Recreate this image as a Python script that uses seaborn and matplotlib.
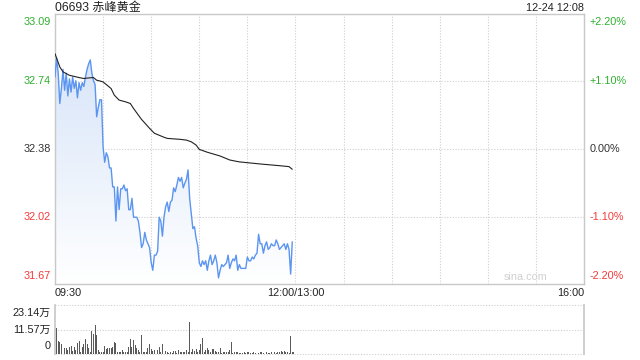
import numpy as np
import pandas as pd
import matplotlib
matplotlib.use("Agg")
import matplotlib.pyplot as plt
import seaborn as sns
from matplotlib.colors import LinearSegmentedColormap

# ---------------- data ----------------
title_text = "06693 赤峰黄金"
stamp_text = "12-24 12:08"
prev_close = 32.38
price_ticks = [33.09, 32.74, 32.38, 32.02, 31.67]
pct_ticks = ["+2.20%", "+1.10%", "0.00%", "-1.10%", "-2.20%"]
time_labels = ["09:30", "12:00/13:00", "16:00"]
vol_labels = ["23.14万", "11.57万", "0"]
vol_max = 23.14

price_min = list(range(0, 149))
price = [32.76, 32.86, 32.78, 32.62, 32.70, 32.80, 32.69, 32.78, 32.66, 32.75,
         32.68, 32.76, 32.70, 32.74, 32.65, 32.73, 32.69, 32.73, 32.71, 32.76,
         32.80, 32.83, 32.85, 32.78, 32.74, 32.72, 32.55, 32.60, 32.64, 32.64,
         32.39, 32.31, 32.36, 32.34, 32.28, 32.28, 32.18, 32.18, 32.00, 32.18,
         32.06, 32.17, 32.17, 32.19, 32.16, 32.17, 32.06, 32.06, 32.12, 32.02,
         32.02, 32.02, 32.00, 31.94, 31.86, 31.88, 31.94, 31.90, 31.88, 31.86,
         31.78, 31.74, 31.82, 31.82, 31.84, 32.02, 32.00, 31.92, 32.02, 32.075,
         32.10, 32.05, 32.10, 32.11, 32.175, 32.155, 32.19, 32.23, 32.21, 32.23,
         32.175, 32.20, 32.22, 32.27, 32.12, 32.04, 31.96, 31.97, 31.91, 31.87,
         31.78, 31.76, 31.79, 31.77, 31.79, 31.74, 31.79, 31.82, 31.77, 31.79,
         31.82, 31.78, 31.70, 31.74, 31.77, 31.76, 31.77, 31.78, 31.82, 31.75,
         31.78, 31.80, 31.79, 31.82, 31.74, 31.77, 31.75, 31.75, 31.75, 31.75,
         31.81, 31.79, 31.79, 31.81, 31.80, 31.82, 31.83, 31.93, 31.88, 31.88,
         31.83, 31.87, 31.89, 31.85, 31.86, 31.88, 31.87, 31.87, 31.90, 31.88,
         31.85, 31.86, 31.87, 31.88, 31.85, 31.88, 31.85, 31.72, 31.89]

avg_min = [0, 3, 5, 9, 15, 18, 21, 24, 26, 28, 30, 32, 35, 37, 40, 44, 47, 49,
           52, 54, 59, 62, 68, 70, 78, 82, 85, 88, 90, 95, 103, 109, 115, 128,
           140, 146, 148]
avg_price = [32.883, 32.813, 32.787, 32.769, 32.757, 32.752, 32.755, 32.757,
             32.743, 32.739, 32.734, 32.720, 32.699, 32.664, 32.638, 32.629,
             32.620, 32.594, 32.559, 32.536, 32.489, 32.463, 32.442, 32.436,
             32.431, 32.427, 32.418, 32.401, 32.378, 32.363, 32.343, 32.322,
             32.312, 32.301, 32.292, 32.287, 32.273]

vol_min = list(range(0, 150))
volume = [23.14, 12.1, 6.1, 5.5, 4.6, 5.0, 3.0, 3.0, 2.0, 3.5,
          3.9, 1.4, 3.5, 1.9, 5.0, 6.1, 1.1, 3.5, 4.6, 7.1,
          4.6, 3.0, 1.1, 10.8, 9.3, 13.7, 9.0, 1.9, 0.8, 1.1,
          0.8, 3.9, 2.4, 3.0, 2.7, 3.0, 3.5, 5.8, 5.0, 1.0,
          1.1, 0.8, 1.9, 0.8, 1.1, 0.8, 3.5, 7.1, 3.5, 6.6,
          4.2, 3.0, 1.9, 0.8, 9.0, 1.1, 0.8, 1.1, 2.7, 4.6,
          2.4, 1.5, 1.9, 1.9, 1.9, 3.5, 0.8, 4.6, 5.8, 1.4,
          0.8, 0.3, 0.8, 0.3, 1.4, 1.4, 0.3, 1.9, 0.8, 0.8,
          1.1, 0.8, 1.9, 0.8, 15.3, 1.0, 2.4, 1.4, 2.4, 0.8,
          1.9, 4.6, 7.7, 1.1, 1.9, 2.7, 1.9, 0.8, 2.4, 2.4,
          1.4, 1.1, 1.1, 3.0, 0.3, 1.1, 0.8, 1.1, 0.8, 1.9,
          5.8, 0.3, 1.1, 1.1, 1.1, 0.6, 0.3, 0.6, 0.8, 0.3,
          0.8, 1.1, 0.6, 0.3, 0.8, 0.5, 0.8, 0.3, 0.8, 1.1,
          0.6, 0.8, 1.1, 0.5, 0.3, 0.8, 0.6, 1.1, 0.3, 0.8,
          1.1, 1.4, 0.8, 1.4, 1.1, 1.1, 0.5, 8.6, 1.1, 0.8]

# ---------------- style ----------------
sns.set_theme(style="white")
plt.rcParams['font.family'] = ['Liberation Sans', 'Noto Sans CJK SC', 'DejaVu Sans']

GREEN = "#2fb02f"
RED = "#f23a3a"
DARK = "#333333"
BLUE = "#5b95f0"
GRID = "#cfcfcf"
FS = 7.8

W, H = 640, 360
fig = plt.figure(figsize=(6.4, 3.6), dpi=100)

def frac(x0, y0, x1, y1):
    return [x0 / W, 1 - y1 / H, (x1 - x0) / W, (y1 - y0) / H]

ax = fig.add_axes(frac(55, 14, 584, 284))
axv = fig.add_axes(frac(55, 305, 584, 354))

X_MAX = 330
y_lo = prev_close * (1 - 0.022)
y_hi = prev_close * (1 + 0.022)

df_p = pd.DataFrame({"m": price_min, "p": price})
df_a = pd.DataFrame({"m": avg_min, "p": avg_price})

# gradient fill under the price line
poly = ax.fill_between(df_p["m"], df_p["p"], y_lo, color="none", lw=0)
cmap = LinearSegmentedColormap.from_list("g", ["#ffffff", "#d8e5f9"])
grad = np.linspace(0, 1, 256).reshape(-1, 1)
top = max(price)
im = ax.imshow(grad, aspect="auto", cmap=cmap, origin="lower",
               extent=[0, max(price_min), y_lo, top], zorder=1)
path = poly.get_paths()[0]
im.set_clip_path(path, transform=ax.transData)

sns.lineplot(data=df_p, x="m", y="p", ax=ax, color=BLUE, lw=1.0, zorder=3)
sns.lineplot(data=df_a, x="m", y="p", ax=ax, color="#222222", lw=0.8, zorder=3)

ax.set_xlim(0, X_MAX)
ax.set_ylim(y_lo, y_hi)
ax.set_xlabel("")
ax.set_ylabel("")
ax.set_xticks([])
ax.set_yticks([])

# grid lines
for v in range(30, X_MAX, 30):
    ax.axvline(v, color=GRID, lw=0.8, ls=(0, (1, 1.5)), zorder=0.5)
for v in price_ticks[1:-1]:
    ax.axhline(v, color=GRID, lw=0.8, ls=(0, (1, 1.5)), zorder=0.5)

for s in ax.spines.values():
    s.set_color("#c8c8c8")
    s.set_linewidth(1.0)

# price labels left & percent labels right
colors = [GREEN, GREEN, DARK, RED, RED]
vas = ["top", "center", "center", "center", "bottom"]
offs = [-3, 0, 0, 0, 3]
for v, pl, c, va, o in zip(price_ticks, pct_ticks, colors, vas, offs):
    ax.annotate(f"{v:.2f}", xy=(0, v), xycoords=("axes fraction", "data"),
                xytext=(-4, o), textcoords="offset pixels",
                ha="right", va=va, color=c, fontsize=FS)
    ax.annotate(pl, xy=(1, v), xycoords=("axes fraction", "data"),
                xytext=(6, o), textcoords="offset pixels",
                ha="left", va=va, color=c, fontsize=FS)

# time labels
tpos = [0, 150, X_MAX]
has = ["left", "center", "right"]
for t, lab, ha in zip(tpos, time_labels, has):
    ax.annotate(lab, xy=(t, 0), xycoords=("data", "axes fraction"),
                xytext=(0, -4), textcoords="offset pixels",
                ha=ha, va="top", color="#222222", fontsize=FS)

ax.text(0.89, 0.008, "sina.com", transform=ax.transAxes, ha="center",
        va="bottom", color="#d0d0d0", fontsize=FS)

fig.text(55 / W, 1 - 8 / H, title_text, ha="left", va="center",
         fontsize=8.7, color="#222222")
fig.text(584 / W, 1 - 8 / H, stamp_text, ha="right", va="center",
         fontsize=FS, color="#222222")

# volume panel
axv.bar(vol_min, volume, width=0.6, color="#5a5a5a", lw=0, zorder=3)
axv.set_xlim(0, X_MAX)
axv.set_ylim(0, vol_max)
axv.set_xticks([])
axv.set_yticks([])
for v in [vol_max, vol_max / 2, 0]:
    axv.axhline(v, color=GRID, lw=0.8, ls=(0, (1, 1.5)), zorder=0.5,
                clip_on=False)
for k in ["top", "bottom"]:
    axv.spines[k].set_visible(False)
axv.spines["left"].set_color("#c8c8c8")
axv.spines["right"].set_color("#c8c8c8")

vvals = [vol_max, vol_max / 2, 0]
voffs = [-3, 0, 3]
vvas = ["top", "center", "bottom"]
for v, lab, va, o in zip(vvals, vol_labels, vvas, voffs):
    axv.annotate(lab, xy=(0, v), xycoords=("axes fraction", "data"),
                 xytext=(-4, o), textcoords="offset pixels",
                 ha="right", va=va, color="#222222", fontsize=FS)

fig.savefig("out.png", dpi=100)
